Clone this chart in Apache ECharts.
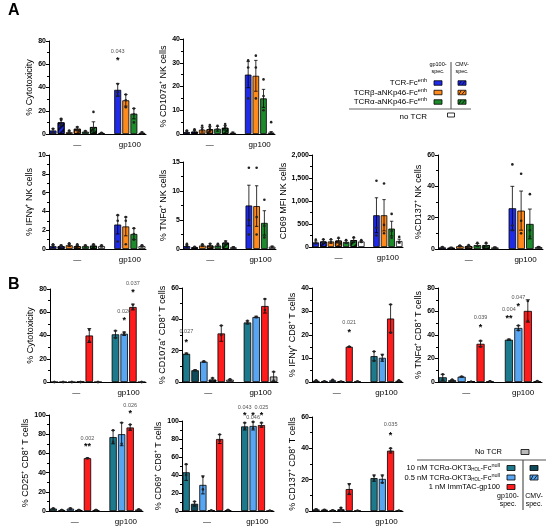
<!DOCTYPE html>
<html><head><meta charset="utf-8">
<script src="https://cdn.jsdelivr.net/npm/echarts@6.0.0/dist/echarts.min.js"></script>
<style>html,body{margin:0;padding:0;background:#fff}#c{width:550px;height:526px}</style>
</head><body><div id="c"></div>
<script>
// ---------------- DATA ----------------
const GROUPS = ['—', 'gp100'];
// Panel A bar slots: "—" group (7 bars), gap, gp100 group (4 bars)
const A_SLOTS = ['blue','blueH','orange','orangeH','green','greenH','white',null,'blue','orange','green','white'];
const A_GROUP_CENTERS = [3.5, 10];
// Panel B bar slots: "—" group (6 bars), gap, gp100 group (4 bars)
const B_SLOTS = ['teal','tealD','lblue','lblueH','red','gray',null,'teal','lblue','red','gray'];
const B_GROUP_CENTERS = [3, 9];

// A: % Cytotoxicity
const A_cyto_mean = [3,10,1.5,4.5,2,6,0.8,null,38,29,17.5,1];
const A_cyto_sd   = [1.5,3,1,1.5,0.6,4.5,0.4,null,5.5,5,4.5,0.6];
const A_cyto_pts  = [[1.5,4.5],[8,12,13],[1,3],[3,6],[1.5,2.5],[3,5,19],[0.5,1],[],[33,36,43],[23,29,34],[10,17,22],[0.5,1.5]];
const A_cyto_ann  = [[8,71,'0.043']];
const A_cyto_star = [[8,65,'*']];
// A: % CD107a+ NK cells
const A_cd107_mean = [0.8,1,1.8,2,2.2,2.6,0.5,null,25,24.5,15,0.6];
const A_cd107_sd   = [0.5,0.6,1,1.2,1,1,0.3,null,5.5,6.5,3.8,0.4];
const A_cd107_pts  = [[1,1.5],[1.5,2],[2,3.5],[2.5,3.8],[2,3.5],[3,4.2],[0.5],[],[15,28,31],[15,28,33],[10,16,23],[0.5,5]];
// A: % IFNγ+ NK cells
const A_ifn_mean = [0.3,0.3,0.4,0.3,0.3,0.35,0.3,null,2.6,2.4,1.6,0.3];
const A_ifn_sd   = [0.15,0.1,0.15,0.1,0.1,0.15,0.1,null,1.0,1.0,0.6,0.1];
const A_ifn_pts  = [[0.4,0.5],[0.3,0.4],[0.5,0.6],[0.4,0.5],[0.3,0.4],[0.4,0.5],[0.3,0.4],[],[0.8,3,3.6],[0.5,3,3.4],[1,1.6,2.2],[0.3,0.4]];
// A: % TNFα+ NK cells
const A_tnf_mean = [0.5,0.3,0.6,0.6,0.6,1.1,0.3,null,7.5,7.4,4.5,0.4];
const A_tnf_sd   = [0.2,0.1,0.2,0.3,0.2,0.3,0.1,null,3.5,3.5,2.1,0.1];
const A_tnf_pts  = [[0.7,0.9],[0.4],[0.6,0.8],[0.5,0.9],[0.5,0.9],[1,1.3],[0.3],[],[2.5,5,14],[2.5,5.5,14],[2,4,8.5],[0.4]];
// A: CD69 MFI NK cells
const A_cd69_mean = [100,120,120,140,110,150,120,null,690,690,400,130];
const A_cd69_sd   = [30,40,40,50,30,50,20,null,380,340,160,40];
const A_cd69_pts  = [[80,160],[100,170],[100,170],[100,200],[90,150],[120,210],[110,150],[],[250,420,1440],[300,480,1380],[200,350,720],[100,220]];
// A: %CD137+ NK cells
const A_cd137_mean = [1,0.8,1.8,1.8,2.5,2.5,1,null,26,24.5,16,1.2];
const A_cd137_sd   = [0.3,0.3,0.4,0.5,1,1.2,0.3,null,14,12.5,9.5,0.4];
const A_cd137_pts  = [[1,1.3],[0.8],[1.8,2.2],[1.5,2.5],[2,4],[2,4],[1],[],[12,15,54],[10,18,48],[8,12,35],[1.2]];

// B: % Cytotoxicity
const B_cyto_mean = [0,0,0,0,40,0,null,41,41.5,64.5,0];
const B_cyto_sd   = [0,0,0,0,6,0,null,3,1.5,2.5,0];
const B_cyto_pts  = [[0,0],[0,0],[0,0],[0,0],[45,35],[0,0],[],[44,38],[42.5,41],[66.5,63],[0,0]];
const B_cyto_ann  = [[8,61,'0.026'],[9,85,'0.037']];
const B_cyto_star = [[8,55,'*'],[9,79,'*']];
// B: % CD107a+ CD8+ T cells
const B_cd107_mean = [18,7.5,13,1.5,31,1.5,null,38,41.5,48.5,3.5];
const B_cd107_sd   = [0.5,0.3,0.3,1,5,0.3,null,1,0.5,4.5,3];
const B_cd107_pts  = [[18,18],[7.5,7.5],[13,13],[2.5,0.8],[36,30],[1.5,1.5],[],[39,37.5],[41.5,41.5],[53,46],[6.5,1]];
const B_cd107_ann  = [[0,32,'0.027']];
const B_cd107_star = [[0,27,'*']];
// B: % IFNγ+ CD8+ T cells
const B_ifn_mean = [0.5,0.3,0.7,0.2,15,0.2,null,11,10.3,27,0.5];
const B_ifn_sd   = [0.2,0.1,0.2,0.1,0.1,0.1,null,2,1.5,6,0.2];
const B_ifn_pts  = [[0.4,0.7],[0.3],[0.6,0.9],[0.2],[15,15],[0.2,0.2],[],[13,9],[11.5,9.5],[33,21],[0.4,0.7]];
const B_ifn_ann  = [[4,25.5,'0.021']];
const B_ifn_star = [[4,22,'*']];
// B: % TNFα+ CD8+ T cells
const B_tnf_mean = [4,1.5,4.5,0.3,32.5,0.5,null,36,46,60.5,0.5];
const B_tnf_sd   = [2.5,0.5,0.3,0.1,2.5,0.2,null,0.5,2,9.5,0.2];
const B_tnf_pts  = [[6.5,2],[2,1],[4.5,4.5],[0.3],[35,30],[0.5,0.5],[],[36,36],[48,44],[69,52],[0.5,0.8]];
const B_tnf_ann  = [[4,55,'0.039'],[7,62,'0.004'],[8,72.3,'0.047']];
const B_tnf_star = [[4,48.8,'*'],[7,56,'**'],[8,66.7,'*']];
// B: % CD25+ CD8+ T cells
const B_cd25_mean = [2.5,1,2.5,1,55,1,null,77,80,87,1.5];
const B_cd25_sd   = [0.3,0.2,0.5,0.2,0.3,0.2,null,7,12,3,0.3];
const B_cd25_pts  = [[2.5,2.5],[1,1],[2.5,2.5],[1,1],[55,55],[1,1],[],[84,72],[92,70],[90,85],[1.5,1.5]];
const B_cd25_ann  = [[4,75.5,'0.002'],[9,110,'0.026']];
const B_cd25_star = [[4,70,'**'],[9,104.5,'*']];
// B: % CD69+ CD8+ T cells
const B_cd69_mean = [43,8,29,0.5,80,1,null,94,94.5,95.5,0.3];
const B_cd69_sd   = [9,2.5,10,0.2,5,0.2,null,4,4.5,2.5,0.1];
const B_cd69_pts  = [[52,40],[10.5,7],[38,24],[0.5,0.5],[85,78],[1,1],[],[98,92],[99,92],[98,94],[0.3,0.3]];
const B_cd69_ann  = [[7,115,'0.043'],[8,104.4,'0.046'],[9,115,'0.025']];
const B_cd69_star = [[7,109,'*'],[8,109,'*'],[9,109,'*']];
// B: % CD137+ CD8+ T cells
const B_cd137_mean = [1,0.8,0.5,1,14,0.2,null,21,20.5,38.5,0.2];
const B_cd137_sd   = [0.3,0.2,0.2,1,3.5,0.1,null,2,2.5,1.5,0.1];
const B_cd137_pts  = [[1,1],[0.8],[0.5],[2,0.5],[17,11],[0.2,0.2],[],[22.5,20],[22.5,18],[40,38],[0.2,0.2]];
const B_cd137_ann  = [[9,55,'0.035']];
const B_cd137_star = [[9,50,'*']];

const LEGEND_A_ROWS = [
  {label:'TCR-Fc{s|enh}', gp:'blue', cmv:'blueH'},
  {label:'TCRβ-aNKp46-Fc{s|enh}', gp:'orange', cmv:'orangeH'},
  {label:'TCRα-aNKp46-Fc{s|enh}', gp:'green', cmv:'greenH'}
];
const LEGEND_B_ROWS = [
  {label:'10 nM TCRα-OKT3{b|HOL}-Fc{s|null}', gp:'teal', cmv:'tealD'},
  {label:'0.5 nM TCRα-OKT3{b|HOL}-Fc{s|null}', gp:'lblue', cmv:'lblueH'},
  {label:'1 nM ImmTAC-gp100', gp:'red', cmv:null}
];

// ---------------- STYLE ----------------
const FONT = '"Liberation Sans", Arial, sans-serif';
const COLORS = {blue:'#1f2be6', blueH:'#1f2be6', orange:'#ff8a1c', orangeH:'#ff8a1c', green:'#1d8a2b', greenH:'#1d8a2b', white:'#ffffff',
  teal:'#1c7a8c', tealD:'#0e4a5a', lblue:'#58a6f2', lblueH:'#58a6f2', red:'#ff1c1c', gray:'#b8b8b8'};
const HATCHED = {blueH:true, orangeH:true, greenH:true, lblueH:true};
const DECAL = {symbol:'rect', symbolSize:1, color:'rgba(0,0,0,0.75)', dashArrayX:[1,0], dashArrayY:[2,2], rotation:-Math.PI/4};

const PANELS = [
  {slots:A_SLOTS, centers:A_GROUP_CENTERS, mean:A_cyto_mean, sd:A_cyto_sd, pts:A_cyto_pts, ann:A_cyto_ann, star:A_cyto_star, name:'% Cytotoxicity', max:80, interval:20, box:[49,41,97,93], gap:12},
  {slots:A_SLOTS, centers:A_GROUP_CENTERS, mean:A_cd107_mean, sd:A_cd107_sd, pts:A_cd107_pts, ann:[], star:[], name:'% CD107a⁺ NK cells', max:40, interval:10, box:[183,39,92,95], gap:14},
  {slots:A_SLOTS, centers:A_GROUP_CENTERS, mean:A_ifn_mean, sd:A_ifn_sd, pts:A_ifn_pts, ann:[], star:[], name:'% IFNγ⁺ NK cells', max:10, interval:2, box:[49,155,97,94], gap:12},
  {slots:A_SLOTS, centers:A_GROUP_CENTERS, mean:A_tnf_mean, sd:A_tnf_sd, pts:A_tnf_pts, ann:[], star:[], name:'% TNFα⁺ NK cells', max:15, interval:5, box:[183,162,93,87], gap:14},
  {slots:A_SLOTS, centers:A_GROUP_CENTERS, mean:A_cd69_mean, sd:A_cd69_sd, pts:A_cd69_pts, ann:[], star:[], name:'CD69 MFI NK cells', max:2000, interval:500, box:[312,155,91,92], gap:23},
  {slots:A_SLOTS, centers:A_GROUP_CENTERS, mean:A_cd137_mean, sd:A_cd137_sd, pts:A_cd137_pts, ann:[], star:[], name:'%CD137⁺ NK cells', max:60, interval:20, box:[438,155,105,94], gap:13},
  {slots:B_SLOTS, centers:B_GROUP_CENTERS, mean:B_cyto_mean, sd:B_cyto_sd, pts:B_cyto_pts, ann:B_cyto_ann, star:B_cyto_star, name:'% Cytotoxicity', max:80, interval:20, box:[50,289,96,93], gap:13},
  {slots:B_SLOTS, centers:B_GROUP_CENTERS, mean:B_cd107_mean, sd:B_cd107_sd, pts:B_cd107_pts, ann:B_cd107_ann, star:B_cd107_star, name:'% CD107a⁺ CD8⁺ T cells', max:60, interval:20, box:[182,288,96,94], gap:14},
  {slots:B_SLOTS, centers:B_GROUP_CENTERS, mean:B_ifn_mean, sd:B_ifn_sd, pts:B_ifn_pts, ann:B_ifn_ann, star:B_ifn_star, name:'% IFNγ⁺ CD8⁺ T cells', max:40, interval:10, box:[312,288,91,94], gap:14},
  {slots:B_SLOTS, centers:B_GROUP_CENTERS, mean:B_tnf_mean, sd:B_tnf_sd, pts:B_tnf_pts, ann:B_tnf_ann, star:B_tnf_star, name:'% TNFα⁺ CD8⁺ T cells', max:80, interval:20, box:[438,288,104,94], gap:13},
  {slots:B_SLOTS, centers:B_GROUP_CENTERS, mean:B_cd25_mean, sd:B_cd25_sd, pts:B_cd25_pts, ann:B_cd25_ann, star:B_cd25_star, name:'% CD25⁺ CD8⁺ T cells', max:100, interval:20, box:[49,415,94,96], gap:12},
  {slots:B_SLOTS, centers:B_GROUP_CENTERS, mean:B_cd69_mean, sd:B_cd69_sd, pts:B_cd69_pts, ann:B_cd69_ann, star:B_cd69_star, name:'% CD69⁺ CD8⁺ T cells', max:100, interval:20, box:[182,421,92,90], gap:14},
  {slots:B_SLOTS, centers:B_GROUP_CENTERS, mean:B_cd137_mean, sd:B_cd137_sd, pts:B_cd137_pts, ann:B_cd137_ann, star:B_cd137_star, name:'% CD137⁺ CD8⁺ T cells', max:60, interval:20, box:[312,417,91,94], gap:15}
];

function itemStyleFor(key){
  const s = {color:COLORS[key], borderColor:'#000', borderWidth:0.8};
  if (HATCHED[key]) s.decal = DECAL;
  return s;
}

const option = {animation:false, backgroundColor:'#fff', grid:[], xAxis:[], yAxis:[], series:[], graphic:[]};

PANELS.forEach((p, i) => {
  const N = p.slots.length;
  option.grid.push({left:p.box[0], top:p.box[1], width:p.box[2], height:p.box[3]});
  option.xAxis.push({type:'category', gridIndex:i, data:p.slots.map((_, k) => k), boundaryGap:true,
    axisLine:{show:true, lineStyle:{color:'#000', width:1}}, axisTick:{show:false}, axisLabel:{show:false}, splitLine:{show:false}});
  option.xAxis.push({type:'value', gridIndex:i, min:0, max:N, interval:0.5, position:'bottom',
    axisLine:{show:false}, axisTick:{show:false}, splitLine:{show:false},
    axisLabel:{fontSize:8, margin:7, color:'#000', fontFamily:FONT,
      formatter: v => { const g = p.centers.indexOf(v); return g >= 0 ? GROUPS[g] : ''; }}});
  option.yAxis.push({type:'value', gridIndex:i, min:0, max:p.max, interval:p.interval,
    name:p.name, nameLocation:'middle', nameGap:p.gap,
    nameTextStyle:{fontSize:9, color:'#000', fontFamily:FONT},
    axisLine:{show:true, lineStyle:{color:'#000', width:1}},
    axisTick:{show:true, length:3, lineStyle:{color:'#000', width:1}},
    minorTick:{show:true, splitNumber:2, length:2, lineStyle:{color:'#000', width:1}},
    splitLine:{show:false}, minorSplitLine:{show:false},
    axisLabel:{fontSize:7, fontWeight:'bold', color:'#000', margin:3, fontFamily:FONT}});

  const barData = p.mean.map((v, k) => v == null ? '-' : {value:v, itemStyle:itemStyleFor(p.slots[k])});
  option.series.push({type:'bar', xAxisIndex:2*i, yAxisIndex:i, data:barData, barCategoryGap:'14%', z:2});

  const errData = [];
  p.mean.forEach((v, k) => { if (v != null && p.sd[k] > 0) errData.push([k, Math.max(0, v - p.sd[k]), v + p.sd[k]]); });
  option.series.push({type:'custom', xAxisIndex:2*i, yAxisIndex:i, z:3, clip:false, data:errData,
    renderItem:(params, api) => {
      const x = api.value(0);
      const hi = api.coord([x, api.value(2)]), lo = api.coord([x, api.value(1)]);
      const w = api.size([1, 0])[0] * 0.22;
      const st = {stroke:'#000', lineWidth:0.8};
      return {type:'group', children:[
        {type:'line', shape:{x1:hi[0], y1:hi[1], x2:lo[0], y2:lo[1]}, style:st},
        {type:'line', shape:{x1:hi[0]-w, y1:hi[1], x2:hi[0]+w, y2:hi[1]}, style:st},
        {type:'line', shape:{x1:lo[0]-w, y1:lo[1], x2:lo[0]+w, y2:lo[1]}, style:st}
      ]};
    }});

  const ptData = [];
  p.pts.forEach((arr, k) => arr.forEach(v => ptData.push([k, v])));
  option.series.push({type:'scatter', xAxisIndex:2*i, yAxisIndex:i, z:4, data:ptData, symbol:'circle', symbolSize:2.6,
    itemStyle:{color:'#222', opacity:1}, silent:true});

  const texts = p.ann.map(a => ({k:a[0], v:a[1], t:a[2], star:false})).concat(p.star.map(a => ({k:a[0], v:a[1], t:a[2], star:true})));
  if (texts.length) {
    option.series.push({type:'custom', xAxisIndex:2*i, yAxisIndex:i, z:5, clip:false,
      data:texts.map(o => [o.k, o.v]),
      renderItem:(params, api) => {
        const o = texts[params.dataIndex];
        const c = api.coord([api.value(0), api.value(1)]);
        return {type:'text', x:c[0], y:o.star ? c[1] + 2.5 : c[1],
          style:{text:o.t, fill:o.star ? '#000' : '#555', fontSize:o.star ? 9 : 5.5, fontWeight:o.star ? 'bold' : 'normal',
            fontFamily:FONT, align:'center', verticalAlign:'middle'}};
      }});
  }
});

// ---------------- GRAPHICS: panel letters and legends ----------------
const G = option.graphic;
G.push({type:'text', x:8, y:3, style:{text:'A', fontSize:16, fontWeight:'bold', fill:'#000', fontFamily:FONT}});
G.push({type:'text', x:8, y:277, style:{text:'B', fontSize:16, fontWeight:'bold', fill:'#000', fontFamily:FONT}});

function swatch(cx, cy, key, w, h){
  const items = [{type:'rect', shape:{x:cx-w/2, y:cy-h/2, width:w, height:h}, style:{fill:COLORS[key], stroke:'#000', lineWidth:0.8}, z:10}];
  if (HATCHED[key]) {
    items.push({type:'line', shape:{x1:cx-w/2+1, y1:cy+h/2-0.5, x2:cx-1, y2:cy-h/2+0.5}, style:{stroke:'#000', lineWidth:0.8}, z:11});
    items.push({type:'line', shape:{x1:cx, y1:cy+h/2-0.5, x2:cx+w/2-1, y2:cy-h/2+0.5}, style:{stroke:'#000', lineWidth:0.8}, z:11});
  }
  return items;
}
const TXT = (x, y, text, size, align, extra) => Object.assign({type:'text', x, y, z:10,
  style:Object.assign({text, fontSize:size, fill:'#000', fontFamily:FONT, align:align || 'left', verticalAlign:'middle'}, extra || {})});
const RICH = {s:{fontSize:5.5, padding:[0,0,5,0], fontFamily:FONT, fill:'#000'}, b:{fontSize:4.5, padding:[4,0,0,0], fontFamily:FONT, fill:'#000'}};

// Legend A
G.push(TXT(438, 68, 'gp100-\nspec.', 5.5, 'center', {lineHeight:7}));
G.push(TXT(462, 68, 'CMV-\nspec.', 5.5, 'center', {lineHeight:7}));
G.push({type:'line', shape:{x1:451, y1:62, x2:451, y2:109}, style:{stroke:'#666', lineWidth:1.2}, z:10});
LEGEND_A_ROWS.forEach((r, j) => {
  const y = 83 + j * 9.5;
  G.push(TXT(427, y, r.label, 8, 'right', {rich:RICH}));
  swatch(438, y, r.gp, 8, 4.5).forEach(e => G.push(e));
  if (r.cmv) swatch(462, y, r.cmv, 8, 4.5).forEach(e => G.push(e));
});
G.push({type:'line', shape:{x1:349, y1:109, x2:471, y2:109}, style:{stroke:'#666', lineWidth:1.2}, z:10});
G.push(TXT(427, 117, 'no TCR', 8, 'right'));
swatch(451, 115, 'white', 7, 4).forEach(e => G.push(e));

// Legend B
G.push(TXT(502, 452, 'No TCR', 7.5, 'right'));
swatch(525, 452, 'gray', 8, 5).forEach(e => G.push(e));
G.push({type:'line', shape:{x1:417, y1:460, x2:546, y2:460}, style:{stroke:'#555', lineWidth:1.2}, z:10});
G.push({type:'line', shape:{x1:523, y1:460, x2:523, y2:510}, style:{stroke:'#555', lineWidth:1.2}, z:10});
LEGEND_B_ROWS.forEach((r, j) => {
  const y = 468 + j * 9.5;
  G.push(TXT(500, y, r.label, 7.5, 'right', {rich:RICH}));
  swatch(511, y, r.gp, 8, 5).forEach(e => G.push(e));
  if (r.cmv) swatch(534, y, r.cmv, 8, 5).forEach(e => G.push(e));
});
G.push(TXT(508, 500, 'gp100-\nspec.', 7, 'center', {lineHeight:8}));
G.push(TXT(534, 500, 'CMV-\nspec.', 7, 'center', {lineHeight:8}));

const chart = echarts.init(document.getElementById('c'), null, {renderer:'canvas'});
chart.setOption(option);
</script></body></html>
